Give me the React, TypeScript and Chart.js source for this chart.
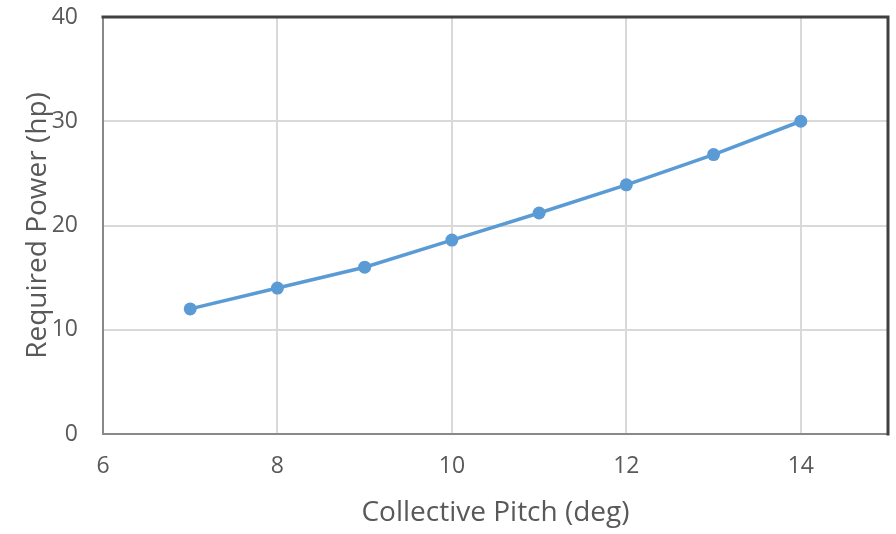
import React, { useEffect, useRef } from "react";
import { Chart, registerables } from "chart.js";

Chart.register(...registerables);

const pitch = [7, 8, 9, 10, 11, 12, 13, 14];
const power = [12, 14, 16, 18.6, 21.2, 23.9, 26.8, 30];
const xTicks = [6, 8, 10, 12, 14];
const yTicks = [0, 10, 20, 30, 40];

const FONT = "'Open Sans', sans-serif";

export default function App() {
  const ref = useRef<HTMLCanvasElement | null>(null);
  useEffect(() => {
    if (!ref.current) return;
    const borderPlugin = {
      id: "frame",
      afterDatasetsDraw(chart: any) {
        const { ctx, chartArea: a } = chart;
        ctx.save();
        ctx.lineCap = "square";
        ctx.strokeStyle = "#898989";
        ctx.lineWidth = 2;
        ctx.beginPath();
        ctx.moveTo(a.left, a.top);
        ctx.lineTo(a.left, a.bottom);
        ctx.lineTo(a.right, a.bottom);
        ctx.stroke();
        ctx.strokeStyle = "#404040";
        ctx.lineWidth = 3;
        ctx.beginPath();
        ctx.moveTo(a.left, a.top);
        ctx.lineTo(a.right, a.top);
        ctx.lineTo(a.right, a.bottom);
        ctx.stroke();
        ctx.restore();
      },
    };
    const chart = new Chart(ref.current, {
      type: "line",
      data: {
        datasets: [
          {
            data: pitch.map((x, i) => ({ x, y: power[i] })),
            borderColor: "#5b9bd5",
            backgroundColor: "#5b9bd5",
            borderWidth: 3.5,
            pointRadius: 6.5,
            pointHoverRadius: 6.5,
            pointBorderWidth: 0,
            tension: 0,
          },
        ],
      },
      options: {
        animation: false,
        responsive: false,
        layout: { padding: { top: 17, right: 8, left: 0, bottom: 0 } },
        plugins: { legend: { display: false }, tooltip: { enabled: false } },
        scales: {
          x: {
            type: "linear",
            min: 6,
            max: 15,
            afterBuildTicks: (s: any) => {
              s.ticks = xTicks.map((v) => ({ value: v }));
            },
            afterFit: (s: any) => {
              s.height = 100;
              s.paddingLeft = 0;
              s.paddingRight = 0;
            },
            grid: { color: "#d9d9d9", lineWidth: 2, drawTicks: false },
            border: { display: false },
            ticks: { font: { family: FONT, size: 23 }, color: "#595959", padding: 19, maxRotation: 0 },
            title: {
              display: true,
              text: "Collective Pitch (deg)",
              font: { family: FONT, size: 28 },
              color: "#595959",
              padding: { top: 0, bottom: 4 },
            },
          },
          y: {
            type: "linear",
            min: 0,
            max: 40,
            afterBuildTicks: (s: any) => {
              s.ticks = yTicks.map((v) => ({ value: v }));
            },
            afterFit: (s: any) => {
              s.width = 103;
              s.paddingTop = 0;
              s.paddingBottom = 0;
            },
            grid: { color: "#d9d9d9", lineWidth: 2, drawTicks: false },
            border: { display: false },
            ticks: { font: { family: FONT, size: 23 }, color: "#595959", padding: 25 },
            title: {
              display: true,
              text: "Required Power (hp)",
              font: { family: FONT, size: 28 },
              color: "#595959",
              padding: { top: 21, bottom: 0 },
            },
          },
        },
      },
      plugins: [borderPlugin],
    });
    return () => chart.destroy();
  }, []);
  return (
    <div style={{ position: "fixed", left: 0, top: 0, width: 896, height: 534, background: "#fff" }}>
      <canvas ref={ref} width={896} height={534} style={{ width: 896, height: 534 }} />
    </div>
  );
}
